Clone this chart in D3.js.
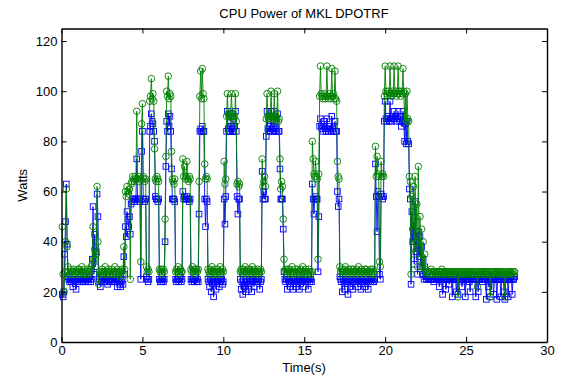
<!DOCTYPE html>
<html><head><meta charset="utf-8">
<script src="https://cdn.jsdelivr.net/npm/d3@7"></script>
<style>body{margin:0;background:#fff}svg{display:block}text{font-family:"Liberation Sans",Arial,sans-serif}</style>
</head><body>
<svg id="c" width="566" height="377"></svg>
<script>
const title = "CPU Power of MKL DPOTRF";
const xLabel = "Time(s)";
const yLabel = "Watts";
const xTicks = [0,5,10,15,20,25,30];
const yTicks = [0,20,40,60,80,100,120];
const timeStep = 0.05; // sampling interval (s)
// green series (circles), one row per second
const greenValues = [
46,27,20,28,40,61,38,30,28,27,29,28,27,28,29,28,27,28,28,29,
28,29,27,28,30,28,27,29,28,28,27,29,28,27,28,29,30,31,46,33,
37,33,35,62,40,23,28,27,28,29,28,27,28,30,28,27,28,29,28,27,
28,29,27,28,28,30,27,28,29,28,27,28,26,28,29,27,38,29,60,58,
62,60,59,61,25,63,64,66,65,64,66,65,92,65,64,66,65,32,87,95,
66,65,64,65,30,28,29,28,96,98,105,97,99,96,77,65,64,66,65,64,
29,28,29,27,28,29,28,49,74,100,98,106,97,99,98,76,65,64,63,65,
28,29,28,30,27,28,29,28,28,73,66,70,65,66,72,65,64,66,65,29,
28,30,28,29,27,28,29,28,29,64,98,108,97,109,99,97,71,65,66,65,
29,28,27,29,28,30,28,27,28,29,28,27,29,28,28,30,27,28,29,28,
72,63,65,90,99,91,90,88,90,99,91,90,89,90,99,88,63,64,62,63,
28,29,28,27,29,28,30,28,27,29,28,28,29,27,28,30,28,29,28,27,
28,29,28,27,28,29,28,73,62,64,66,62,89,99,90,89,90,89,100,90,
89,90,99,88,90,89,100,88,89,73,61,64,62,49,33,28,29,27,28,29,
28,29,27,28,30,28,27,28,29,28,27,29,28,28,27,29,28,30,28,27,
28,29,28,27,28,29,28,27,28,80,73,67,66,72,66,65,33,67,98,110,
99,98,97,98,99,97,98,110,98,97,99,98,97,109,98,99,97,108,97,96,
72,66,65,30,28,29,28,27,28,29,30,28,28,27,29,28,28,29,27,28,
29,28,28,27,29,28,30,28,27,28,29,28,28,27,29,28,29,28,27,28,
28,29,28,27,29,28,27,78,66,74,67,66,32,30,72,66,67,66,98,110,
100,99,98,100,99,110,99,98,100,99,110,99,100,98,99,110,100,99,98,100,
99,109,100,89,99,88,100,89,88,66,64,27,58,45,62,35,66,40,55,30,
70,38,50,33,45,30,40,28,35,29,28,27,28,28,27,28,29,27,28,28,
28,27,28,28,27,28,28,27,28,29,28,27,28,28,27,28,28,27,28,28,
27,28,28,27,28,28,27,28,28,18,28,27,28,28,27,28,28,27,28,27,
28,28,27,28,28,27,28,28,27,28,27,28,28,22,28,27,28,28,27,28,
28,27,28,28,27,28,28,27,28,18,28,27,28,28,27,28,28,27,28,28,
27,28,28,27,28,28,27,18,28,27,28,28,27,28,28,27,28,27,28,28
];
// blue series (squares), one row per second
const blueValues = [
19,18,20,35,48,63,39,26,25,24,25,24,25,22,24,25,24,21,25,24,
25,24,25,26,24,25,24,25,26,24,25,25,24,25,26,24,25,33,54,27,
43,30,36,59,50,24,25,22,24,25,26,24,25,24,25,24,23,25,24,25,
25,24,25,26,24,25,24,25,22,25,24,23,22,24,25,23,34,27,46,42,
52,49,46,50,43,55,56,57,57,56,57,57,73,57,57,57,56,25,76,84,
57,57,56,57,26,25,24,25,84,86,91,88,87,84,80,58,57,57,56,57,
25,24,25,24,25,24,25,40,70,88,84,91,86,90,84,69,57,57,57,56,
25,24,25,25,24,25,26,24,25,60,57,58,57,57,58,57,57,56,57,25,
24,25,25,24,25,26,24,25,24,51,84,85,84,86,84,84,57,46,57,56,
25,24,22,25,20,24,25,18,25,24,21,25,24,25,22,25,24,25,23,24,
57,47,58,84,92,85,84,84,86,91,85,84,84,86,92,84,58,51,57,57,
25,21,24,19,25,22,24,20,25,24,21,25,24,25,20,24,25,22,24,25,
24,25,24,25,21,24,25,68,57,60,57,57,82,92,85,84,86,84,92,85,
84,86,92,84,85,84,91,84,84,69,57,57,57,45,28,25,24,25,21,25,
24,25,22,24,25,21,25,24,25,22,24,25,24,21,25,24,25,24,22,25,
25,24,25,24,21,25,24,25,24,63,57,51,57,58,57,57,28,50,86,89,
86,85,84,86,88,85,84,89,85,84,86,85,84,90,85,84,86,88,84,84,
60,54,57,26,25,24,20,25,24,21,25,24,25,19,24,25,22,25,24,21,
25,24,25,24,25,22,24,25,24,21,25,24,25,24,22,25,24,25,21,24,
25,24,25,24,25,24,25,71,58,44,60,58,27,25,59,58,57,58,88,96,
89,88,90,89,88,96,89,88,90,89,92,89,90,88,89,92,89,88,90,86,
88,92,88,80,87,79,88,80,79,61,57,23,52,40,48,31,56,36,44,27,
44,34,42,30,38,27,33,25,30,26,25,26,25,25,26,25,25,26,25,24,
25,26,25,25,26,25,22,25,26,25,19,25,26,25,21,25,25,26,23,25,
25,26,18,25,25,26,25,20,25,19,25,26,25,25,22,25,26,25,18,25,
25,26,25,24,20,25,26,25,25,26,25,18,25,26,20,25,25,26,25,24,
25,26,25,25,17,25,26,22,25,18,25,26,25,19,25,26,25,17,25,26,
25,25,18,25,26,25,20,17,25,26,25,18,25,25,26,25,19,25,25,26
];
const times = greenValues.map((_, i) => +((i + 1) * timeStep).toFixed(2));

const svg = d3.select("#c");
const x = d3.scaleLinear().domain([0, 30]).range([61.5, 547]);
const y = d3.scaleLinear().domain([0, 125]).range([342, 28.5]);

const blue = times.map((t, i) => ({t, v: blueValues[i]}));
const green = times.map((t, i) => ({t, v: greenValues[i]}));

const line = d3.line().x(d => x(d.t)).y(d => y(d.v));

// blue series
svg.append("path").datum(blue).attr("d", line)
  .attr("fill", "none").attr("stroke", "#0000ff").attr("stroke-width", 0.9);
svg.append("g").selectAll("rect").data(blue).join("rect")
  .attr("x", d => x(d.t) - 2.8).attr("y", d => y(d.v) - 2.8)
  .attr("width", 5.6).attr("height", 5.6)
  .attr("fill", "none").attr("stroke", "#0000ff").attr("stroke-width", 0.9);

// green series
svg.append("path").datum(green).attr("d", line)
  .attr("fill", "none").attr("stroke", "#008000").attr("stroke-width", 0.9);
svg.append("g").selectAll("circle").data(green).join("circle")
  .attr("cx", d => x(d.t)).attr("cy", d => y(d.v)).attr("r", 3.3)
  .attr("fill", "none").attr("stroke", "#008000").attr("stroke-width", 0.9);

// axes
const fs = "13px";
const gB = svg.append("g").attr("transform", `translate(0,${y(0)})`)
  .call(d3.axisBottom(x).tickValues(xTicks).tickSizeInner(-5).tickSizeOuter(0).tickPadding(4));
const gT = svg.append("g").attr("transform", `translate(0,${y(125)})`)
  .call(d3.axisTop(x).tickValues(xTicks).tickSizeInner(-5).tickSizeOuter(0).tickFormat(""));
const gL = svg.append("g").attr("transform", `translate(${x(0)},0)`)
  .call(d3.axisLeft(y).tickValues(yTicks).tickSizeInner(-5).tickSizeOuter(0).tickPadding(4));
const gR = svg.append("g").attr("transform", `translate(${x(30)},0)`)
  .call(d3.axisRight(y).tickValues(yTicks).tickSizeInner(-5).tickSizeOuter(0).tickFormat(""));
[gB, gT, gL, gR].forEach(g => {
  g.select(".domain").attr("stroke", "#000").attr("stroke-width", 1.4);
  g.selectAll(".tick line").attr("stroke", "#000").attr("stroke-width", 1);
  g.selectAll("text").attr("fill", "#000").style("font-size", fs)
    .style("font-family", '"Liberation Sans",Arial,sans-serif');
});
gB.selectAll("text").attr("dy", "0.71em").attr("y", 4);
gL.selectAll("text").attr("x", -4);

svg.append("text").attr("x", 304).attr("y", 18).attr("text-anchor", "middle")
  .style("font-size", "13px").text(title);
svg.append("text").attr("x", 304).attr("y", 372).attr("text-anchor", "middle")
  .style("font-size", "13px").text(xLabel);
svg.append("text").attr("transform", `translate(27,${(y(0)+y(125))/2}) rotate(-90)`)
  .attr("text-anchor", "middle").style("font-size", "13px").text(yLabel);
</script>
</body></html>
